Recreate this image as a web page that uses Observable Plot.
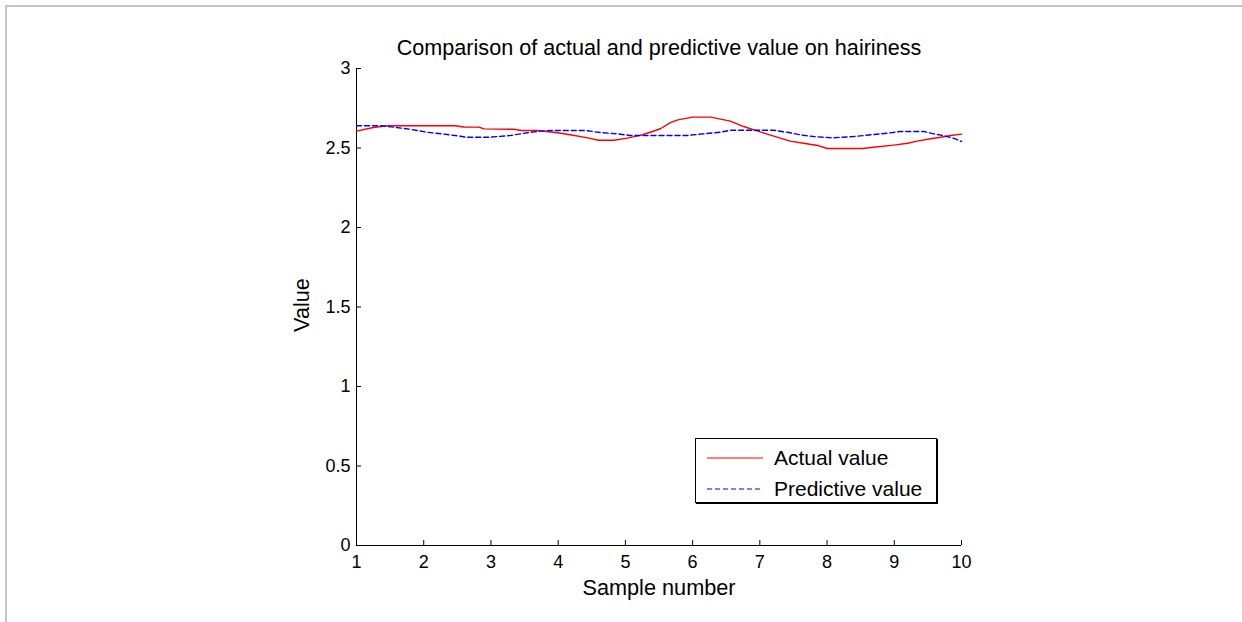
<!DOCTYPE html>
<html><head><meta charset="utf-8">
<script src="https://cdn.jsdelivr.net/npm/d3@7"></script>
<script src="https://cdn.jsdelivr.net/npm/@observablehq/plot@0.6"></script>
<style>
html,body{margin:0;padding:0;background:#fff;}
#wrap{position:relative;width:1242px;height:622px;overflow:hidden;font-family:"Liberation Sans",Arial,sans-serif;}
#border{position:absolute;left:5px;top:5px;width:1300px;height:700px;border-top:2px solid #c4c4cc;border-left:2px solid #c4c4cc;}
#chart{position:absolute;left:0;top:0;}
#legend{position:absolute;left:695px;top:438px;width:242px;height:65px;border:1px solid #000;box-shadow:1px 1px 0 #000;box-sizing:border-box;background:#fff;}
#legend .row{position:absolute;left:0;height:24px;display:flex;align-items:center;font-size:21px;color:#000;}
#legend svg{margin-left:11px;margin-right:11px;}
</style>
</head><body>
<div id="wrap"><div id="border"></div><div id="chart"></div><div id="legend"></div></div>
<script>
// ---- data ----
const titleText = "Comparison of actual and predictive value on hairiness";
const xLabel = "Sample number";
const yLabel = "Value";
const seriesNames = ["Actual value", "Predictive value"];

const actualX = [1.00,1.25,1.46,2.47,2.60,2.82,2.90,3.34,3.45,3.69,3.99,4.18,4.44,4.60,4.83,5.03,5.22,5.37,5.52,5.67,5.78,6.00,6.27,6.56,6.76,6.97,7.11,7.28,7.45,7.65,7.86,8.00,8.53,8.69,8.99,9.20,9.34,9.54,9.69,9.84,10.00];
const actualY = [2.606,2.629,2.640,2.640,2.632,2.631,2.620,2.618,2.610,2.610,2.596,2.583,2.564,2.549,2.549,2.562,2.579,2.599,2.621,2.659,2.677,2.694,2.694,2.669,2.635,2.606,2.587,2.565,2.543,2.530,2.516,2.497,2.497,2.505,2.518,2.530,2.543,2.558,2.568,2.579,2.587];

const predX = [1.00,1.36,1.55,1.80,2.05,2.35,2.55,2.62,2.99,3.29,3.54,3.74,3.89,4.41,4.63,4.88,5.07,5.92,6.16,6.41,6.56,7.20,7.41,7.60,7.80,8.08,8.39,8.65,8.90,9.09,9.44,9.59,9.74,9.89,10.00];
const predY = [2.640,2.640,2.631,2.618,2.599,2.585,2.574,2.568,2.568,2.579,2.596,2.606,2.610,2.610,2.597,2.589,2.579,2.579,2.589,2.599,2.612,2.612,2.599,2.583,2.572,2.564,2.572,2.583,2.593,2.604,2.604,2.589,2.577,2.560,2.541];

const xTicks = [1,2,3,4,5,6,7,8,9,10];
const yTicks = [0,0.5,1,1.5,2,2.5,3];

// ---- styles ----
const styles = [
  {stroke: "#ff0000", dash: null},
  {stroke: "#0000ff", dash: "5,3"}
];

const actual = actualX.map((x, i) => ({x, y: actualY[i]}));
const pred = predX.map((x, i) => ({x, y: predY[i]}));

const font = '"Liberation Sans", Arial, sans-serif';

const chart = Plot.plot({
  width: 1242,
  height: 622,
  marginLeft: 356,
  marginRight: 281,
  marginTop: 68,
  marginBottom: 77,
  style: {fontFamily: font, fontSize: "18px", color: "#000", background: "transparent"},
  x: {domain: [1, 10]},
  y: {domain: [0, 3]},
  marks: [
    Plot.axisX({ticks: xTicks, tickSize: -5, tickPadding: 15, tickFormat: d => `${d}`, label: null, fontSize: 18, stroke: "#000"}),
    Plot.axisY({ticks: yTicks, tickSize: -5, tickPadding: 11, tickFormat: d => `${d}`, label: null, fontSize: 18, stroke: "#000"}),
    Plot.ruleX([1], {stroke: "#000"}),
    Plot.ruleY([0], {stroke: "#000"}),
    Plot.line(actual, {x: "x", y: "y", stroke: styles[0].stroke, strokeWidth: 1.4}),
    Plot.line(pred, {x: "x", y: "y", stroke: styles[1].stroke, strokeWidth: 1.4, strokeDasharray: styles[1].dash}),
    Plot.text([titleText], {frameAnchor: "top", dy: -29, text: d => d, fontSize: 21.6, fill: "#000", textAnchor: "middle"}),
    Plot.text([xLabel], {frameAnchor: "bottom", dy: 49, text: d => d, fontSize: 21.7, fill: "#000", textAnchor: "middle"}),
    Plot.text([yLabel], {frameAnchor: "left", dx: -54, dy: -2, rotate: -90, text: d => d, fontSize: 21.7, fill: "#000", textAnchor: "middle"})
  ]
});
document.getElementById("chart").appendChild(chart);

// legend
const legend = document.getElementById("legend");
seriesNames.forEach((name, i) => {
  const row = document.createElement("div");
  row.className = "row";
  row.style.top = (i === 0 ? 7 : 38) + "px";
  row.innerHTML = `<svg width="56" height="4"><line x1="0" x2="56" y1="2" y2="2" stroke="${styles[i].stroke}" stroke-width="1.2" ${styles[i].dash ? `stroke-dasharray="${styles[i].dash}"` : ""}/></svg><span>${name}</span>`;
  legend.appendChild(row);
});
</script>
</body></html>
